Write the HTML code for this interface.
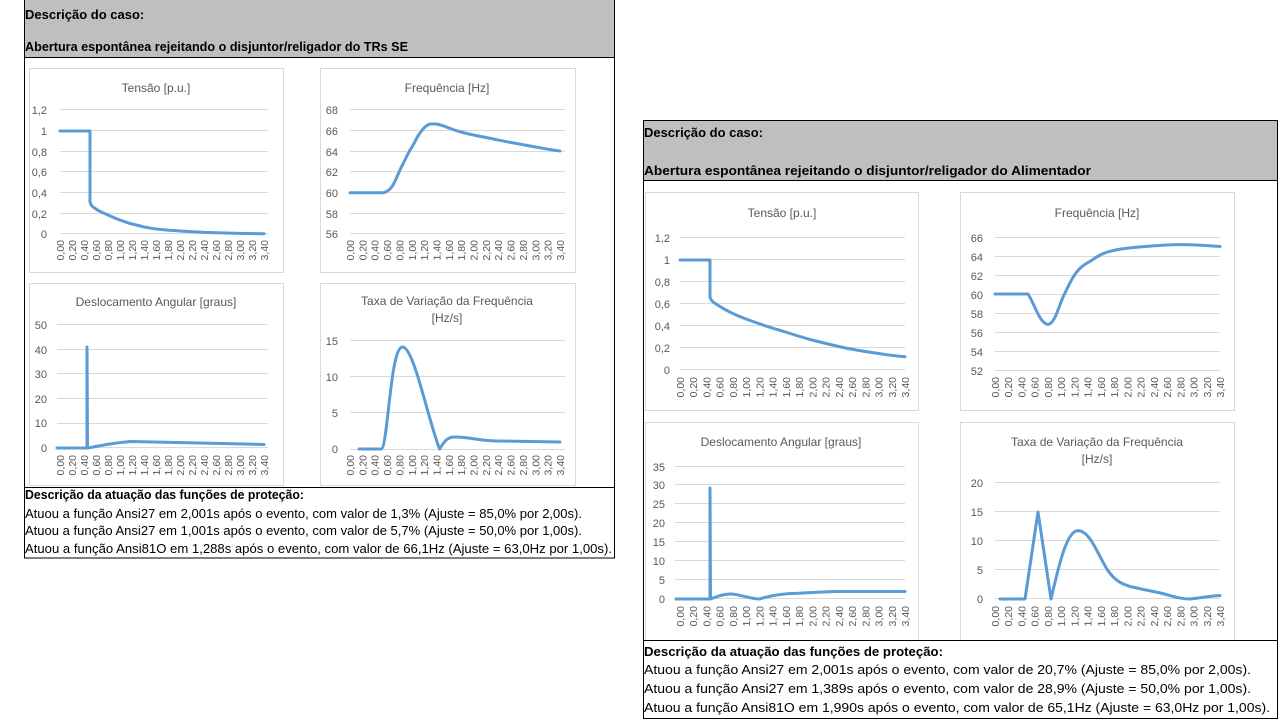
<!DOCTYPE html>
<html><head><meta charset="utf-8"><style>
html,body{margin:0;padding:0;background:#fff;}
svg{display:block;}
.h{font-family:"Liberation Sans",sans-serif;font-size:13px;fill:#000;}
.b{font-weight:bold;}
.t{font-family:"Liberation Sans",sans-serif;font-size:12px;fill:#595959;text-anchor:middle;}
.y{font-family:"Liberation Sans",sans-serif;font-size:11px;fill:#595959;text-anchor:end;}
.x text{font-family:"Liberation Sans",sans-serif;font-size:10.5px;fill:#595959;text-anchor:end;}
.g{stroke:#d9d9d9;stroke-width:1;}
.c{fill:none;stroke:#5b9bd5;stroke-width:3;stroke-linejoin:round;stroke-linecap:round;}
.box{fill:#fff;stroke:#d9d9d9;stroke-width:1;}
</style></head><body>
<svg width="1280" height="720" viewBox="0 0 1280 720" xmlns="http://www.w3.org/2000/svg">
<!-- LEFT PANEL -->
<rect x="24" y="0" width="590" height="57" fill="#bfbfbf"/>
<text class="h b" x="25" y="19">Descrição do caso:</text>
<text class="h b" x="25" y="51" textLength="383" lengthAdjust="spacingAndGlyphs">Abertura espontânea rejeitando o disjuntor/religador do TRs SE</text>
<text class="h b" x="25" y="499" textLength="279" lengthAdjust="spacingAndGlyphs">Descrição da atuação das funções de proteção:</text>
<text class="h" x="25" y="518" textLength="557" lengthAdjust="spacingAndGlyphs">Atuou a função Ansi27 em 2,001s após o evento, com valor de 1,3% (Ajuste = 85,0% por 2,00s).</text>
<text class="h" x="25" y="535" textLength="557" lengthAdjust="spacingAndGlyphs">Atuou a função Ansi27 em 1,001s após o evento, com valor de 5,7% (Ajuste = 50,0% por 1,00s).</text>
<text class="h" x="25" y="553" textLength="587" lengthAdjust="spacingAndGlyphs">Atuou a função Ansi81O em 1,288s após o evento, com valor de 66,1Hz (Ajuste = 63,0Hz por 1,00s).</text>

<rect class="box" x="29.5" y="68.5" width="254" height="204"/>
<rect class="box" x="320.5" y="68.5" width="255" height="204"/>
<rect class="box" x="29.5" y="283.5" width="254" height="202"/>
<rect class="box" x="320.5" y="283.5" width="255" height="202"/>
<rect x="24.5" y="-1" width="590" height="559" fill="none" stroke="#000" stroke-width="1"/>
<line x1="24" y1="57.5" x2="614" y2="57.5" stroke="#000"/>
<line x1="24" y1="487.5" x2="614" y2="487.5" stroke="#000"/>

<!-- Left Tensão -->
<text class="t" x="156" y="92">Tensão [p.u.]</text>
<g class="g"><line x1="60" y1="109.5" x2="268" y2="109.5"/><line x1="60" y1="130.5" x2="268" y2="130.5"/><line x1="60" y1="151.5" x2="268" y2="151.5"/><line x1="60" y1="171.5" x2="268" y2="171.5"/><line x1="60" y1="192.5" x2="268" y2="192.5"/><line x1="60" y1="213.5" x2="268" y2="213.5"/><line x1="60" y1="233.5" x2="268" y2="233.5"/></g>
<g class="y"><text x="47" y="114">1,2</text><text x="47" y="135">1</text><text x="47" y="156">0,8</text><text x="47" y="176">0,6</text><text x="47" y="197">0,4</text><text x="47" y="218">0,2</text><text x="47" y="238">0</text></g>
<path class="c" d="M60,131 L90,131 L90,202 C91,206 93,207 96,209 C100,212 104,213 108,215 C113,217 116,219 120,220 C126,222 128,223 132,224 C137,225 140,226 144,227 C150,228 152,228.5 156,229 C165,230 172,230.5 180,231 C190,231.7 198,232 204,232.4 C220,233 230,233.2 240,233.4 L264,233.7"/>

<!-- Left Frequência -->
<text class="t" x="447" y="92">Frequência [Hz]</text>
<g class="g"><line x1="350" y1="109.5" x2="565" y2="109.5"/><line x1="350" y1="130.5" x2="565" y2="130.5"/><line x1="350" y1="151.5" x2="565" y2="151.5"/><line x1="350" y1="171.5" x2="565" y2="171.5"/><line x1="350" y1="192.5" x2="565" y2="192.5"/><line x1="350" y1="213.5" x2="565" y2="213.5"/><line x1="350" y1="233.5" x2="565" y2="233.5"/></g>
<g class="y"><text x="338" y="114">68</text><text x="338" y="135">66</text><text x="338" y="156">64</text><text x="338" y="176">62</text><text x="338" y="197">60</text><text x="338" y="218">58</text><text x="338" y="238">56</text></g>
<path class="c" d="M350,192.7 L384,192.7 C389,191 391,188 393,185 C397,178 399,171 402.5,165 C406,158 409,151 412,147 C415,142 416,139 418,136 C420,133 422,130 424,128 C426,126 428,124.5 430,124 L436.5,124 C442,125 445,126.5 449,128 C453,129.5 457,131 461,132 C470,134.5 478,136 486,137.5 C495,139.3 503,141 511,142.5 C520,144.2 528,145.6 535.5,147 C545,148.7 552,150 560,151"/>

<!-- Left Deslocamento -->
<text class="t" x="156" y="306">Deslocamento Angular [graus]</text>
<g class="g"><line x1="57" y1="324.5" x2="268" y2="324.5"/><line x1="57" y1="349.5" x2="268" y2="349.5"/><line x1="57" y1="373.5" x2="268" y2="373.5"/><line x1="57" y1="398.5" x2="268" y2="398.5"/><line x1="57" y1="423.5" x2="268" y2="423.5"/><line x1="57" y1="447.5" x2="268" y2="447.5"/></g>
<g class="y"><text x="47" y="329">50</text><text x="47" y="354">40</text><text x="47" y="378">30</text><text x="47" y="403">20</text><text x="47" y="427">10</text><text x="47" y="452">0</text></g>
<path class="c" d="M57,448 L87,448 L87,347 L87.5,448 C100,446 115,442 132,441.5 L264,444.5"/>

<!-- Left Taxa -->
<text class="t" x="447" y="305">Taxa de Variação da Frequência</text>
<text class="t" x="447" y="322">[Hz/s]</text>
<g class="g"><line x1="350" y1="340.5" x2="565" y2="340.5"/><line x1="350" y1="376.5" x2="565" y2="376.5"/><line x1="350" y1="412.5" x2="565" y2="412.5"/><line x1="350" y1="449.5" x2="565" y2="449.5"/></g>
<g class="y"><text x="338" y="345">15</text><text x="338" y="381">10</text><text x="338" y="417">5</text><text x="338" y="453">0</text></g>
<path class="c" d="M359,449 L381,449 C388,449 390,347 402.5,347 C414,347 428,420 439.6,449 C445,440 448,437 455,437 C470,437 480,441 498,441 L560,442"/>

<!-- RIGHT PANEL -->
<rect x="643" y="120" width="634" height="60" fill="#bfbfbf"/>
<text class="h b" x="644" y="137" textLength="119" lengthAdjust="spacingAndGlyphs">Descrição do caso:</text>
<text class="h b" x="644" y="175" textLength="447" lengthAdjust="spacingAndGlyphs">Abertura espontânea rejeitando o disjuntor/religador do Alimentador</text>
<text class="h b" x="644" y="656" textLength="299" lengthAdjust="spacingAndGlyphs">Descrição da atuação das funções de proteção:</text>
<text class="h" x="644" y="674" textLength="607" lengthAdjust="spacingAndGlyphs">Atuou a função Ansi27 em 2,001s após o evento, com valor de 20,7% (Ajuste = 85,0% por 2,00s).</text>
<text class="h" x="644" y="693" textLength="607" lengthAdjust="spacingAndGlyphs">Atuou a função Ansi27 em 1,389s após o evento, com valor de 28,9% (Ajuste = 50,0% por 1,00s).</text>
<text class="h" x="644" y="712" textLength="626" lengthAdjust="spacingAndGlyphs">Atuou a função Ansi81O em 1,990s após o evento, com valor de 65,1Hz (Ajuste = 63,0Hz por 1,00s).</text>

<rect class="box" x="645.5" y="192.5" width="273" height="218"/>
<rect class="box" x="960.5" y="192.5" width="274" height="218"/>
<rect class="box" x="645.5" y="422.5" width="273" height="218"/>
<rect class="box" x="960.5" y="422.5" width="274" height="218"/>
<rect x="643.5" y="120.5" width="634" height="598" fill="none" stroke="#000" stroke-width="1"/>
<line x1="643" y1="180.5" x2="1277" y2="180.5" stroke="#000"/>
<line x1="643" y1="640.5" x2="1277" y2="640.5" stroke="#000"/>

<!-- Right Tensão -->
<text class="t" x="782" y="217">Tensão [p.u.]</text>
<g class="g"><line x1="680" y1="237.5" x2="905" y2="237.5"/><line x1="680" y1="259.5" x2="905" y2="259.5"/><line x1="680" y1="281.5" x2="905" y2="281.5"/><line x1="680" y1="303.5" x2="905" y2="303.5"/><line x1="680" y1="325.5" x2="905" y2="325.5"/><line x1="680" y1="347.5" x2="905" y2="347.5"/><line x1="680" y1="369.5" x2="905" y2="369.5"/></g>
<g class="y"><text x="670" y="242">1,2</text><text x="670" y="264">1</text><text x="670" y="286">0,8</text><text x="670" y="308">0,6</text><text x="670" y="330">0,4</text><text x="670" y="352">0,2</text><text x="670" y="374">0</text></g>
<path class="c" d="M680,260 L710,260 L710,297 C711,301 713,302 716,304 C725,310 735,315 746,319 C757,323 768,327 779,330 C790,333.5 801,337 812,340 C823,342.8 834,345.5 845.5,348 C856,350 867,352 878.6,353.5 C888,355 896,356 905,356.8"/>

<!-- Right Frequência -->
<text class="t" x="1097" y="217">Frequência [Hz]</text>
<g class="g"><line x1="995" y1="237.5" x2="1220" y2="237.5"/><line x1="995" y1="256.5" x2="1220" y2="256.5"/><line x1="995" y1="275.5" x2="1220" y2="275.5"/><line x1="995" y1="294.5" x2="1220" y2="294.5"/><line x1="995" y1="313.5" x2="1220" y2="313.5"/><line x1="995" y1="332.5" x2="1220" y2="332.5"/><line x1="995" y1="351.5" x2="1220" y2="351.5"/><line x1="995" y1="370.5" x2="1220" y2="370.5"/></g>
<g class="y"><text x="983" y="242">66</text><text x="983" y="261">64</text><text x="983" y="280">62</text><text x="983" y="299">60</text><text x="983" y="318">58</text><text x="983" y="337">56</text><text x="983" y="356">54</text><text x="983" y="375">52</text></g>
<path class="c" d="M995,294 L1028,294 C1035,305 1040,324 1048,324.4 C1055,324.4 1060,302 1064.5,294 C1068,287 1071,280 1074.5,275 C1080,267 1085,264 1091,260.8 C1097,256.5 1101,254 1107.5,252 C1116,249.5 1124,248.3 1134,247.5 C1150,246 1165,244.6 1180,244.6 C1195,244.6 1208,245.5 1220,246.5"/>

<!-- Right Deslocamento -->
<text class="t" x="781" y="446">Deslocamento Angular [graus]</text>
<g class="g"><line x1="675" y1="466.5" x2="905" y2="466.5"/><line x1="675" y1="484.5" x2="905" y2="484.5"/><line x1="675" y1="503.5" x2="905" y2="503.5"/><line x1="675" y1="522.5" x2="905" y2="522.5"/><line x1="675" y1="541.5" x2="905" y2="541.5"/><line x1="675" y1="560.5" x2="905" y2="560.5"/><line x1="675" y1="579.5" x2="905" y2="579.5"/><line x1="675" y1="598.5" x2="905" y2="598.5"/></g>
<g class="y"><text x="665" y="471">35</text><text x="665" y="489">30</text><text x="665" y="508">25</text><text x="665" y="527">20</text><text x="665" y="546">15</text><text x="665" y="565">10</text><text x="665" y="584">5</text><text x="665" y="603">0</text></g>
<path class="c" d="M676,599 L710,599 L710,488 L710.5,599 C718,596 724,594 730,594 C740,594 750,599 759.5,599 C772,595 785,593.5 799,593.3 C815,592.3 828,591.5 839,591.5 L905,591.5"/>

<!-- Right Taxa -->
<text class="t" x="1097" y="446">Taxa de Variação da Frequência</text>
<text class="t" x="1097" y="463">[Hz/s]</text>
<g class="g"><line x1="995" y1="482.5" x2="1220" y2="482.5"/><line x1="995" y1="511.5" x2="1220" y2="511.5"/><line x1="995" y1="540.5" x2="1220" y2="540.5"/><line x1="995" y1="569.5" x2="1220" y2="569.5"/><line x1="995" y1="598.5" x2="1220" y2="598.5"/></g>
<g class="y"><text x="983" y="487">20</text><text x="983" y="516">15</text><text x="983" y="545">10</text><text x="983" y="574">5</text><text x="983" y="603">0</text></g>
<path class="c" d="M1000,599 L1025,599 L1038,512 L1051,599 C1058,570 1066,530.6 1078,530.6 C1090,530.6 1098,555 1107.5,570 C1115,581 1123,585 1134,587.4 C1145,590 1152,591 1160.5,593 C1172,596 1180,599 1190,599 C1200,598 1210,596 1220,595.5"/>

<!-- X tick labels -->
<g class="x" transform="translate(60,240)">
<text x="4" y="0" transform="rotate(-90 4 0)">0,00</text><text x="16" y="0" transform="rotate(-90 16 0)">0,20</text><text x="28" y="0" transform="rotate(-90 28 0)">0,40</text><text x="40" y="0" transform="rotate(-90 40 0)">0,60</text><text x="52" y="0" transform="rotate(-90 52 0)">0,80</text><text x="64" y="0" transform="rotate(-90 64 0)">1,00</text><text x="76" y="0" transform="rotate(-90 76 0)">1,20</text><text x="88" y="0" transform="rotate(-90 88 0)">1,40</text><text x="100" y="0" transform="rotate(-90 100 0)">1,60</text><text x="112" y="0" transform="rotate(-90 112 0)">1,80</text><text x="124" y="0" transform="rotate(-90 124 0)">2,00</text><text x="136" y="0" transform="rotate(-90 136 0)">2,20</text><text x="148" y="0" transform="rotate(-90 148 0)">2,40</text><text x="160" y="0" transform="rotate(-90 160 0)">2,60</text><text x="172" y="0" transform="rotate(-90 172 0)">2,80</text><text x="184" y="0" transform="rotate(-90 184 0)">3,00</text><text x="196" y="0" transform="rotate(-90 196 0)">3,20</text><text x="208" y="0" transform="rotate(-90 208 0)">3,40</text>
</g>
<g class="x" transform="translate(60,455)">
<text x="4" y="0" transform="rotate(-90 4 0)">0,00</text><text x="16" y="0" transform="rotate(-90 16 0)">0,20</text><text x="28" y="0" transform="rotate(-90 28 0)">0,40</text><text x="40" y="0" transform="rotate(-90 40 0)">0,60</text><text x="52" y="0" transform="rotate(-90 52 0)">0,80</text><text x="64" y="0" transform="rotate(-90 64 0)">1,00</text><text x="76" y="0" transform="rotate(-90 76 0)">1,20</text><text x="88" y="0" transform="rotate(-90 88 0)">1,40</text><text x="100" y="0" transform="rotate(-90 100 0)">1,60</text><text x="112" y="0" transform="rotate(-90 112 0)">1,80</text><text x="124" y="0" transform="rotate(-90 124 0)">2,00</text><text x="136" y="0" transform="rotate(-90 136 0)">2,20</text><text x="148" y="0" transform="rotate(-90 148 0)">2,40</text><text x="160" y="0" transform="rotate(-90 160 0)">2,60</text><text x="172" y="0" transform="rotate(-90 172 0)">2,80</text><text x="184" y="0" transform="rotate(-90 184 0)">3,00</text><text x="196" y="0" transform="rotate(-90 196 0)">3,20</text><text x="208" y="0" transform="rotate(-90 208 0)">3,40</text>
</g>
<g class="x" transform="translate(350,240)">
<text x="4" y="0" transform="rotate(-90 4 0)">0,00</text><text x="16.4" y="0" transform="rotate(-90 16.4 0)">0,20</text><text x="28.7" y="0" transform="rotate(-90 28.7 0)">0,40</text><text x="41.1" y="0" transform="rotate(-90 41.1 0)">0,60</text><text x="53.4" y="0" transform="rotate(-90 53.4 0)">0,80</text><text x="65.8" y="0" transform="rotate(-90 65.8 0)">1,00</text><text x="78.1" y="0" transform="rotate(-90 78.1 0)">1,20</text><text x="90.5" y="0" transform="rotate(-90 90.5 0)">1,40</text><text x="102.8" y="0" transform="rotate(-90 102.8 0)">1,60</text><text x="115.2" y="0" transform="rotate(-90 115.2 0)">1,80</text><text x="127.5" y="0" transform="rotate(-90 127.5 0)">2,00</text><text x="139.9" y="0" transform="rotate(-90 139.9 0)">2,20</text><text x="152.2" y="0" transform="rotate(-90 152.2 0)">2,40</text><text x="164.6" y="0" transform="rotate(-90 164.6 0)">2,60</text><text x="176.9" y="0" transform="rotate(-90 176.9 0)">2,80</text><text x="189.3" y="0" transform="rotate(-90 189.3 0)">3,00</text><text x="201.6" y="0" transform="rotate(-90 201.6 0)">3,20</text><text x="214" y="0" transform="rotate(-90 214 0)">3,40</text>
</g>
<g class="x" transform="translate(350,455)">
<text x="4" y="0" transform="rotate(-90 4 0)">0,00</text><text x="16.4" y="0" transform="rotate(-90 16.4 0)">0,20</text><text x="28.7" y="0" transform="rotate(-90 28.7 0)">0,40</text><text x="41.1" y="0" transform="rotate(-90 41.1 0)">0,60</text><text x="53.4" y="0" transform="rotate(-90 53.4 0)">0,80</text><text x="65.8" y="0" transform="rotate(-90 65.8 0)">1,00</text><text x="78.1" y="0" transform="rotate(-90 78.1 0)">1,20</text><text x="90.5" y="0" transform="rotate(-90 90.5 0)">1,40</text><text x="102.8" y="0" transform="rotate(-90 102.8 0)">1,60</text><text x="115.2" y="0" transform="rotate(-90 115.2 0)">1,80</text><text x="127.5" y="0" transform="rotate(-90 127.5 0)">2,00</text><text x="139.9" y="0" transform="rotate(-90 139.9 0)">2,20</text><text x="152.2" y="0" transform="rotate(-90 152.2 0)">2,40</text><text x="164.6" y="0" transform="rotate(-90 164.6 0)">2,60</text><text x="176.9" y="0" transform="rotate(-90 176.9 0)">2,80</text><text x="189.3" y="0" transform="rotate(-90 189.3 0)">3,00</text><text x="201.6" y="0" transform="rotate(-90 201.6 0)">3,20</text><text x="214" y="0" transform="rotate(-90 214 0)">3,40</text>
</g>
<g class="x" transform="translate(680,377)">
<text x="4" y="0" transform="rotate(-90 4 0)">0,00</text><text x="17.2" y="0" transform="rotate(-90 17.2 0)">0,20</text><text x="30.5" y="0" transform="rotate(-90 30.5 0)">0,40</text><text x="43.7" y="0" transform="rotate(-90 43.7 0)">0,60</text><text x="56.9" y="0" transform="rotate(-90 56.9 0)">0,80</text><text x="70.2" y="0" transform="rotate(-90 70.2 0)">1,00</text><text x="83.4" y="0" transform="rotate(-90 83.4 0)">1,20</text><text x="96.6" y="0" transform="rotate(-90 96.6 0)">1,40</text><text x="109.9" y="0" transform="rotate(-90 109.9 0)">1,60</text><text x="123.1" y="0" transform="rotate(-90 123.1 0)">1,80</text><text x="136.4" y="0" transform="rotate(-90 136.4 0)">2,00</text><text x="149.6" y="0" transform="rotate(-90 149.6 0)">2,20</text><text x="162.8" y="0" transform="rotate(-90 162.8 0)">2,40</text><text x="176.1" y="0" transform="rotate(-90 176.1 0)">2,60</text><text x="189.3" y="0" transform="rotate(-90 189.3 0)">2,80</text><text x="202.5" y="0" transform="rotate(-90 202.5 0)">3,00</text><text x="215.8" y="0" transform="rotate(-90 215.8 0)">3,20</text><text x="229" y="0" transform="rotate(-90 229 0)">3,40</text>
</g>
<g class="x" transform="translate(995,377)">
<text x="4" y="0" transform="rotate(-90 4 0)">0,00</text><text x="17.2" y="0" transform="rotate(-90 17.2 0)">0,20</text><text x="30.5" y="0" transform="rotate(-90 30.5 0)">0,40</text><text x="43.7" y="0" transform="rotate(-90 43.7 0)">0,60</text><text x="56.9" y="0" transform="rotate(-90 56.9 0)">0,80</text><text x="70.2" y="0" transform="rotate(-90 70.2 0)">1,00</text><text x="83.4" y="0" transform="rotate(-90 83.4 0)">1,20</text><text x="96.6" y="0" transform="rotate(-90 96.6 0)">1,40</text><text x="109.9" y="0" transform="rotate(-90 109.9 0)">1,60</text><text x="123.1" y="0" transform="rotate(-90 123.1 0)">1,80</text><text x="136.4" y="0" transform="rotate(-90 136.4 0)">2,00</text><text x="149.6" y="0" transform="rotate(-90 149.6 0)">2,20</text><text x="162.8" y="0" transform="rotate(-90 162.8 0)">2,40</text><text x="176.1" y="0" transform="rotate(-90 176.1 0)">2,60</text><text x="189.3" y="0" transform="rotate(-90 189.3 0)">2,80</text><text x="202.5" y="0" transform="rotate(-90 202.5 0)">3,00</text><text x="215.8" y="0" transform="rotate(-90 215.8 0)">3,20</text><text x="229" y="0" transform="rotate(-90 229 0)">3,40</text>
</g>
<g class="x" transform="translate(680,606)">
<text x="4" y="0" transform="rotate(-90 4 0)">0,00</text><text x="17.2" y="0" transform="rotate(-90 17.2 0)">0,20</text><text x="30.5" y="0" transform="rotate(-90 30.5 0)">0,40</text><text x="43.7" y="0" transform="rotate(-90 43.7 0)">0,60</text><text x="56.9" y="0" transform="rotate(-90 56.9 0)">0,80</text><text x="70.2" y="0" transform="rotate(-90 70.2 0)">1,00</text><text x="83.4" y="0" transform="rotate(-90 83.4 0)">1,20</text><text x="96.6" y="0" transform="rotate(-90 96.6 0)">1,40</text><text x="109.9" y="0" transform="rotate(-90 109.9 0)">1,60</text><text x="123.1" y="0" transform="rotate(-90 123.1 0)">1,80</text><text x="136.4" y="0" transform="rotate(-90 136.4 0)">2,00</text><text x="149.6" y="0" transform="rotate(-90 149.6 0)">2,20</text><text x="162.8" y="0" transform="rotate(-90 162.8 0)">2,40</text><text x="176.1" y="0" transform="rotate(-90 176.1 0)">2,60</text><text x="189.3" y="0" transform="rotate(-90 189.3 0)">2,80</text><text x="202.5" y="0" transform="rotate(-90 202.5 0)">3,00</text><text x="215.8" y="0" transform="rotate(-90 215.8 0)">3,20</text><text x="229" y="0" transform="rotate(-90 229 0)">3,40</text>
</g>
<g class="x" transform="translate(995,606)">
<text x="4" y="0" transform="rotate(-90 4 0)">0,00</text><text x="17.2" y="0" transform="rotate(-90 17.2 0)">0,20</text><text x="30.5" y="0" transform="rotate(-90 30.5 0)">0,40</text><text x="43.7" y="0" transform="rotate(-90 43.7 0)">0,60</text><text x="56.9" y="0" transform="rotate(-90 56.9 0)">0,80</text><text x="70.2" y="0" transform="rotate(-90 70.2 0)">1,00</text><text x="83.4" y="0" transform="rotate(-90 83.4 0)">1,20</text><text x="96.6" y="0" transform="rotate(-90 96.6 0)">1,40</text><text x="109.9" y="0" transform="rotate(-90 109.9 0)">1,60</text><text x="123.1" y="0" transform="rotate(-90 123.1 0)">1,80</text><text x="136.4" y="0" transform="rotate(-90 136.4 0)">2,00</text><text x="149.6" y="0" transform="rotate(-90 149.6 0)">2,20</text><text x="162.8" y="0" transform="rotate(-90 162.8 0)">2,40</text><text x="176.1" y="0" transform="rotate(-90 176.1 0)">2,60</text><text x="189.3" y="0" transform="rotate(-90 189.3 0)">2,80</text><text x="202.5" y="0" transform="rotate(-90 202.5 0)">3,00</text><text x="215.8" y="0" transform="rotate(-90 215.8 0)">3,20</text><text x="229" y="0" transform="rotate(-90 229 0)">3,40</text>
</g>
</svg>
</body></html>
